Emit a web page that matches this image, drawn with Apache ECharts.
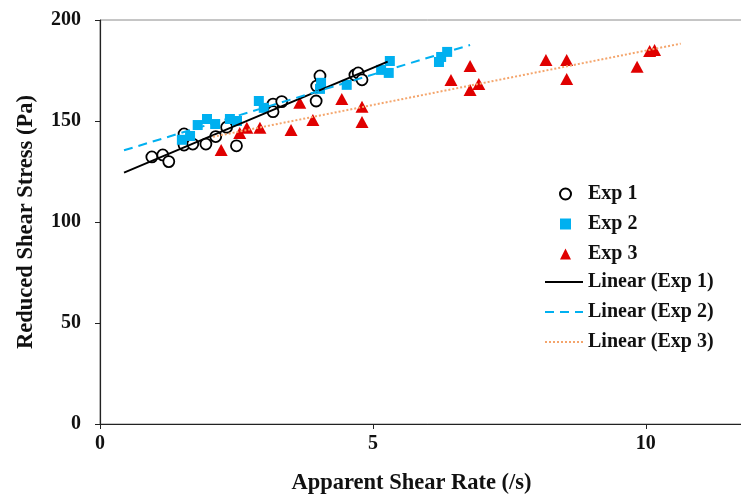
<!DOCTYPE html>
<html lang="en">
<head>
    <meta charset="UTF-8">
    <title>Shear stress vs shear rate</title>
    <style>
        html, body { margin: 0; padding: 0; background: #fff; overflow: hidden; }
        /* plot runs on past the right edge of the window, as in the source */
        #chart { width: 760px; height: 500px; }
    </style>
</head>
<body>
<div id="chart"></div>
<script src="https://cdn.jsdelivr.net/npm/echarts@6/dist/echarts.min.js"></script>
<script>
    // values
    var exp1X = [0.95, 1.15, 1.26, 1.54, 1.54, 1.70, 1.94, 2.12, 2.32, 2.50, 3.17, 3.33, 3.17, 4.03, 3.97, 3.96, 4.67, 4.73, 4.80];
    var exp1Y = [132.2, 133.2, 129.9, 143.6, 138.1, 138.6, 138.6, 142.3, 146.9, 137.7, 158.4, 159.6, 154.6, 172.3, 167.3, 159.9, 172.8, 173.8, 170.4];

    var exp2X = [1.50, 1.65, 1.79, 1.96, 2.11, 2.38, 2.51, 2.91, 3.00, 4.05, 4.03, 4.52, 5.15, 5.31, 5.29, 6.21, 6.25, 6.36];
    var exp2Y = [140.7, 142.6, 148.0, 151.0, 148.5, 151.0, 150.0, 159.9, 156.5, 168.9, 165.9, 167.9, 175.3, 179.7, 173.8, 179.2, 181.7, 184.2];

    var exp3X = [2.22, 2.56, 2.69, 2.93, 3.50, 3.66, 3.90, 4.43, 4.80, 4.80, 6.43, 6.78, 6.78, 6.94, 8.17, 8.55, 8.55, 9.84, 10.07, 10.16];
    var exp3Y = [135.7, 144.1, 146.6, 146.6, 145.6, 159.0, 150.5, 160.9, 157.0, 149.5, 170.3, 177.2, 165.3, 168.3, 180.2, 180.2, 170.8, 176.8, 184.7, 185.2];

    // x span of each trendline
    var fit1Range = [0.44, 5.27];
    var fit2Range = [0.44, 6.78];
    var fit3Range = [2.07, 10.64];

    var scatterNames = ['Exp 1', 'Exp 2', 'Exp 3'];
    var lineNames = ['Linear (Exp 1)', 'Linear (Exp 2)', 'Linear (Exp 3)'];

    var font = 'Liberation Serif';

    var pairs = function (xs, ys) {
        return xs.map(function (x, i) { return [x, ys[i]]; });
    };

    // least squares line over the given range
    var fit = function (xs, ys, range) {
        var n = xs.length, sx = 0, sy = 0, sxx = 0, sxy = 0;
        for (var i = 0; i < n; i++) {
            sx += xs[i]; sy += ys[i];
            sxx += xs[i] * xs[i]; sxy += xs[i] * ys[i];
        }
        var b = (n * sxy - sx * sy) / (n * sxx - sx * sx);
        var a = (sy - b * sx) / n;
        return range.map(function (x) { return [x, a + b * x]; });
    };

    var legendText = {
        fontFamily: font,
        fontWeight: 'bold',
        fontSize: 20,
        lineHeight: 20,
        color: '#111'
    };

    var option = {
        animation: false,
        grid: {
            left: 100,
            top: 20,
            right: 5,
            bottom: 76,
            show: true,
            borderColor: '#8c8c8c',
            borderWidth: 1,
            backgroundColor: 'transparent'
        },
        legend: [
            {
                data: scatterNames,
                orient: 'vertical',
                left: 559,
                top: 184,
                padding: 0,
                itemWidth: 11,
                itemHeight: 11,
                itemGap: 10,
                textStyle: Object.assign({padding: [0, 0, 0, 12]}, legendText)
            },
            {
                data: lineNames,
                orient: 'vertical',
                left: 544,
                top: 272,
                padding: 0,
                itemWidth: 38,
                itemHeight: 10,
                itemGap: 10,
                itemStyle: {opacity: 0},
                textStyle: legendText
            }
        ],
        xAxis: {
            type: 'value',
            min: 0,
            max: 12,
            interval: 5,
            name: 'Apparent Shear Rate (/s)',
            nameLocation: 'middle',
            nameGap: 48,
            nameTextStyle: {
                fontFamily: font, fontWeight: 'bold', fontSize: 22.5, color: '#111',
                padding: [0, 32, 0, 0]
            },
            axisLine: {lineStyle: {color: '#222', width: 1.2}},
            axisTick: {length: 5, lineStyle: {color: '#222'}},
            axisLabel: {
                margin: 10,
                showMaxLabel: false,
                fontFamily: font, fontWeight: 'bold', fontSize: 20, color: '#111'
            },
            splitLine: {show: false}
        },
        yAxis: {
            type: 'value',
            min: 0,
            max: 200,
            interval: 50,
            name: 'Reduced Shear Stress (Pa)',
            nameLocation: 'middle',
            nameGap: 62,
            nameTextStyle: {fontFamily: font, fontWeight: 'bold', fontSize: 22.5, color: '#111'},
            axisLine: {show: true, lineStyle: {color: '#222', width: 1.2}},
            axisTick: {show: true, length: 5, lineStyle: {color: '#222'}},
            axisLabel: {margin: 19, fontFamily: font, fontWeight: 'bold', fontSize: 20, color: '#111'},
            splitLine: {show: false}
        },
        series: [
            {
                name: 'Exp 1',
                type: 'scatter',
                symbol: 'circle',
                symbolSize: 11,
                itemStyle: {color: '#fff', borderColor: '#000', borderWidth: 1.8, opacity: 1},
                data: pairs(exp1X, exp1Y)
            },
            {
                name: 'Exp 2',
                type: 'scatter',
                symbol: 'rect',
                symbolSize: 10,
                itemStyle: {color: '#00b0f0', opacity: 1},
                data: pairs(exp2X, exp2Y)
            },
            {
                name: 'Exp 3',
                type: 'scatter',
                symbol: 'triangle',
                symbolSize: [13, 12],
                itemStyle: {color: '#e00000', opacity: 1},
                data: pairs(exp3X, exp3Y)
            },
            {
                name: 'Linear (Exp 1)',
                type: 'line',
                symbol: 'none',
                lineStyle: {color: '#000', width: 2},
                itemStyle: {color: '#000'},
                data: fit(exp1X, exp1Y, fit1Range)
            },
            {
                name: 'Linear (Exp 2)',
                type: 'line',
                symbol: 'none',
                lineStyle: {color: '#00b0f0', width: 2, type: [9, 6]},
                itemStyle: {color: '#00b0f0'},
                data: fit(exp2X, exp2Y, fit2Range)
            },
            {
                name: 'Linear (Exp 3)',
                type: 'line',
                symbol: 'none',
                lineStyle: {color: '#f4a56c', width: 2, type: [2, 2]},
                itemStyle: {color: '#f4a56c'},
                data: fit(exp3X, exp3Y, fit3Range)
            }
        ]
    };

    var myChart = echarts.init(document.getElementById('chart'));
    myChart.setOption(option);
</script>
</body>
</html>
